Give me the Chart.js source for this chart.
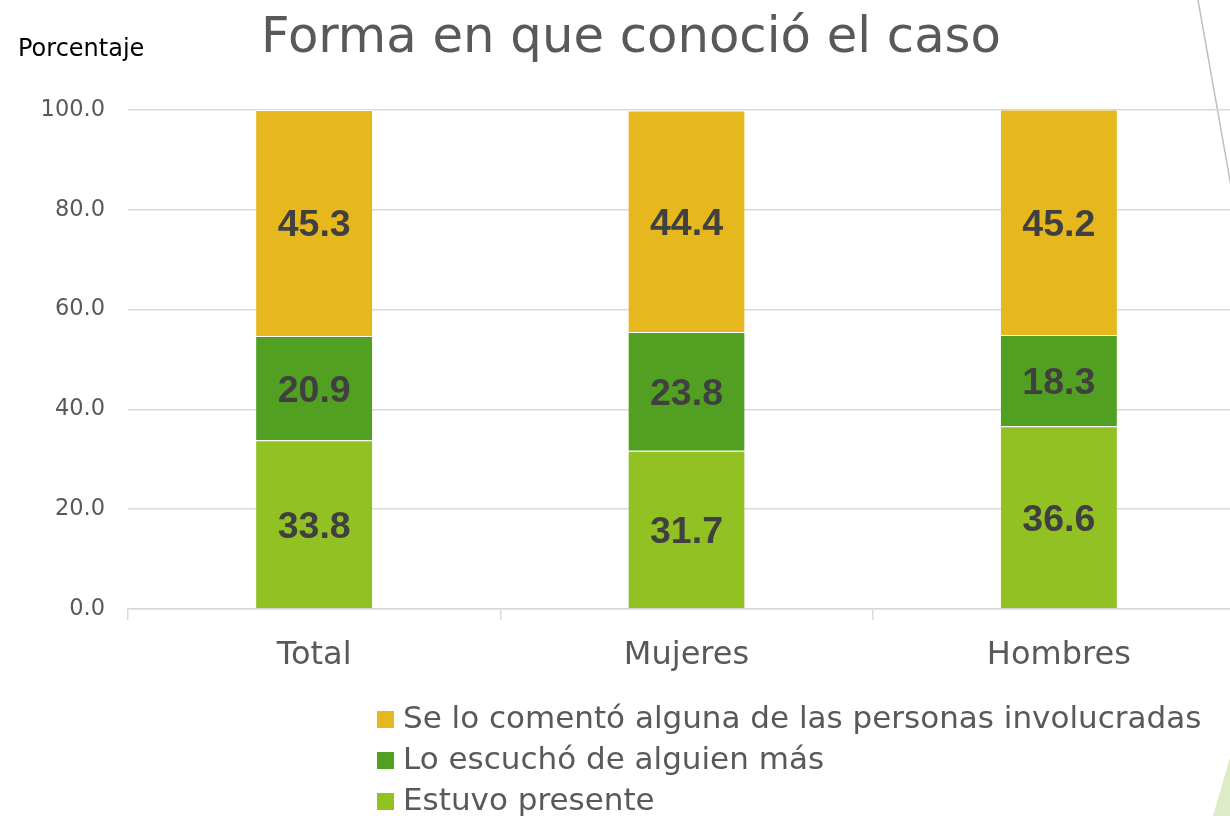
<!DOCTYPE html>
<html>
<head>
<meta charset="utf-8">
<script src="https://cdn.jsdelivr.net/npm/chart.js@4.4.0/dist/chart.umd.min.js"></script>
<style>
  html, body { margin: 0; padding: 0; background: #fff; overflow: hidden; }
  #wrap { position: relative; width: 1245px; height: 816px; font-family: "DejaVu Sans", sans-serif; }
  #chart { position: absolute; left: 0; top: 0; }
  #title { position: absolute; left: 0; top: 6px; width: 1262px; text-align: center;
           font-size: 49.7px; color: #595959; line-height: 58px; white-space: nowrap; }
  #unit { position: absolute; left: 18px; top: 34px; font-size: 24px; color: #000; line-height: 28px; }
  #legend { position: absolute; left: 377px; top: 697px; color: #595959; font-size: 31px; }
  #legend div { height: 41px; line-height: 41px; white-space: nowrap; }
  #legend span { display: inline-block; width: 17px; height: 17px; margin-right: 9px; vertical-align: 0px; }
</style>
</head>
<body>
<div id="wrap">
  <canvas id="chart" width="1245" height="816"></canvas>
  <div id="title">Forma en que conoció el caso</div>
  <div id="unit">Porcentaje</div>
  <div id="legend"></div>
</div>
<script>
var categories = ["Total", "Mujeres", "Hombres"];
var seriesNames = ["Estuvo presente", "Lo escuchó de alguien más", "Se lo comentó alguna de las personas involucradas"];
var presente = [33.8, 31.7, 36.6];
var escucho = [20.9, 23.8, 18.3];
var comento = [45.3, 44.4, 45.2];
var colors = ["#92C123", "#52A021", "#E6B81E"];

var values = [presente, escucho, comento];

// legend, top item is the last series
var legend = document.getElementById("legend");
for (var i = values.length - 1; i >= 0; i--) {
  var row = document.createElement("div");
  row.innerHTML = '<span style="background:' + colors[i] + '"></span>' + seriesNames[i];
  legend.appendChild(row);
}

var barLabels = {
  id: "barLabels",
  afterDatasetsDraw: function(chart) {
    var ctx = chart.ctx;
    ctx.save();
    ctx.font = "bold 37.5px 'Liberation Sans', Arial, sans-serif";
    ctx.fillStyle = "#404040";
    ctx.textAlign = "center";
    ctx.textBaseline = "middle";
    chart.data.datasets.forEach(function(ds, i) {
      chart.getDatasetMeta(i).data.forEach(function(bar, j) {
        ctx.fillText(ds.data[j].toFixed(1), bar.x, (bar.y + bar.base) / 2 + 3);
      });
    });
    ctx.restore();
  }
};

var decor = {
  id: "decor",
  beforeDraw: function(chart) {
    var ctx = chart.ctx;
    ctx.save();
    ctx.strokeStyle = "#BFBFBF";
    ctx.lineWidth = 1.5;
    ctx.beginPath();
    ctx.moveTo(1198, 0);
    ctx.lineTo(1245, 265);
    ctx.stroke();
    ctx.fillStyle = "#DDEBC6";
    ctx.beginPath();
    ctx.moveTo(1213, 816);
    ctx.lineTo(1235, 740);
    ctx.lineTo(1245, 740);
    ctx.lineTo(1245, 816);
    ctx.closePath();
    ctx.fill();
    ctx.restore();
  }
};

var datasets = values.map(function(v, i) {
  return {
    label: seriesNames[i],
    data: v,
    backgroundColor: colors[i],
    borderColor: "#ffffff",
    borderWidth: { top: 1, bottom: 0, left: 0, right: 0 },
    borderSkipped: false,
    categoryPercentage: 1,
    barPercentage: 0.312
  };
});

new Chart(document.getElementById("chart"), {
  type: "bar",
  data: { labels: categories, datasets: datasets },
  options: {
    responsive: false,
    animation: false,
    layout: { padding: { top: 110, left: 0, right: 0, bottom: 0 } },
    plugins: { legend: { display: false }, tooltip: { enabled: false } },
    scales: {
      x: {
        stacked: true,
        grid: { offset: true, drawOnChartArea: false, drawTicks: true, tickLength: 11, color: "#D9D9D9", lineWidth: 1.5 },
        border: { color: "#D9D9D9", width: 1.5 },
        ticks: { color: "#595959", font: { family: "DejaVu Sans", size: 32 }, padding: 16 },
        afterFit: function(scale) { scale.height = 816 - 609; }
      },
      y: {
        stacked: true,
        min: 0,
        max: 100,
        grid: { color: "#D9D9D9", lineWidth: 1.5, drawTicks: false },
        border: { display: false },
        ticks: {
          stepSize: 20,
          color: "#595959",
          font: { family: "DejaVu Sans", size: 22.5 },
          padding: 23,
          callback: function(v) { return v.toFixed(1); }
        },
        afterFit: function(scale) { scale.width = 128; }
      }
    }
  },
  plugins: [decor, barLabels]
});
</script>
</body>
</html>
